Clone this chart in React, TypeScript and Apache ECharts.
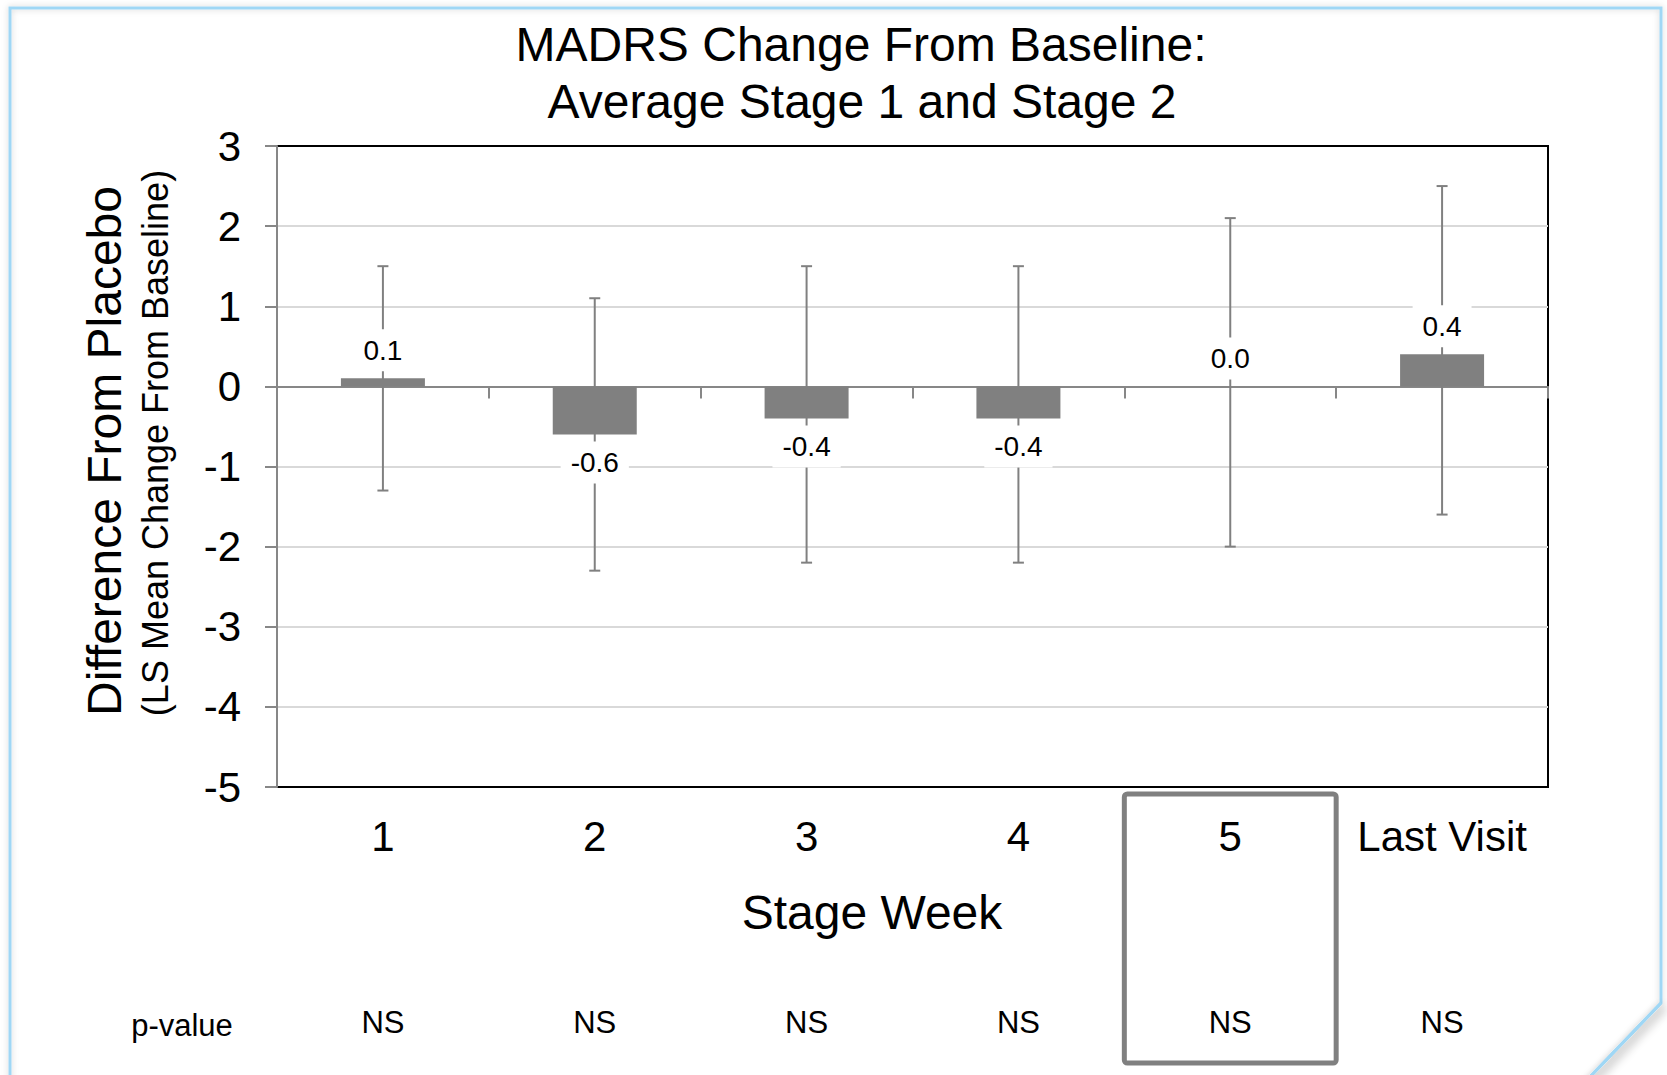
import React, { useEffect, useRef } from "react";
import * as echarts from "echarts";

const categories = ["1", "2", "3", "4", "5", "Last Visit"];
const diffValues = [0.1, -0.6, -0.4, -0.4, 0.0, 0.4];
const ciLower = [-1.3, -2.3, -2.2, -2.2, -2.0, -1.6];
const ciUpper = [1.5, 1.1, 1.5, 1.5, 2.1, 2.5];
const pValues = ["NS", "NS", "NS", "NS", "NS", "NS"];
const yMin = -5;
const yMax = 3;
const yInterval = 1;
const highlightCategory = "5";

const titleLines = ["MADRS Change From Baseline:", "Average Stage 1 and Stage 2"];
const yTitle = "Difference From Placebo";
const ySubTitle = "(LS Mean Change From Baseline)";
const xTitle = "Stage Week";
const pLabel = "p-value";

const FONT = "'Liberation Sans', Arial, Helvetica, sans-serif";
const GRAY = "#808080";
const AXIS_GRAY = "#878787";

const GRID_LEFT = 277;
const GRID_TOP = 146;
const GRID_W = 1271;
const GRID_H = 641;

function txt(id: string, text: string, x: number, y: number, size: number, rotation = 0) {
  return {
    id,
    type: "text",
    x,
    y,
    rotation,
    silent: true,
    style: {
      text,
      x: 0,
      y: 0,
      fill: "#000",
      font: `${size}px ${FONT}`,
      fontSize: size,
      fontFamily: FONT,
      textAlign: "center",
      align: "center",
      textVerticalAlign: "middle",
      verticalAlign: "middle",
    },
  };
}

export default function App() {
  const ref = useRef<HTMLDivElement>(null);

  useEffect(() => {
    if (!ref.current) return;
    const chart = echarts.init(ref.current, null, { renderer: "svg" });

    const option: any = {
      animation: false,
      backgroundColor: "#ffffff",
      textStyle: { fontFamily: FONT },
      grid: {
        left: GRID_LEFT,
        top: GRID_TOP,
        width: GRID_W,
        height: GRID_H,
        show: true,
        borderColor: "#000",
        borderWidth: 2,
        backgroundColor: "transparent",
      },
      xAxis: [
        {
          type: "category",
          data: categories,
          position: "bottom",
          axisLine: { onZero: true, lineStyle: { color: AXIS_GRAY, width: 2 } },
          axisTick: { show: true, length: 12, lineStyle: { color: AXIS_GRAY, width: 2 } },
          axisLabel: { show: false },
          splitLine: { show: false },
        },
        {
          type: "category",
          data: categories,
          position: "bottom",
          axisLine: { show: false, onZero: false },
          axisTick: { show: false },
          splitLine: { show: false },
          axisLabel: {
            interval: 0,
            fontSize: 42,
            fontFamily: FONT,
            color: "#000",
            margin: 28,
          },
        },
        {
          type: "category",
          data: categories,
          position: "bottom",
          offset: 212,
          axisLine: { show: false, onZero: false },
          axisTick: { show: false },
          splitLine: { show: false },
          axisLabel: {
            interval: 0,
            fontSize: 31,
            fontFamily: FONT,
            color: "#000",
            margin: 8,
            formatter: (_v: string, i: number) => pValues[i],
          },
        },
      ],
      yAxis: {
        type: "value",
        min: yMin,
        max: yMax,
        interval: yInterval,
        axisLine: { show: true, lineStyle: { color: AXIS_GRAY, width: 2 } },
        axisTick: { show: true, length: 12, lineStyle: { color: AXIS_GRAY, width: 2 } },
        axisLabel: { fontSize: 42, fontFamily: FONT, color: "#000", margin: 36 },
        splitLine: {
          showMinLine: false,
          showMaxLine: false,
          lineStyle: { color: "#d9d9d9", width: 2 },
        },
      },
      series: [
        {
          type: "custom",
          z: 2,
          silent: true,
          xAxisIndex: 0,
          yAxisIndex: 0,
          data: categories.map((_c, i) => [i, ciLower[i], ciUpper[i]]),
          encode: { x: 0, y: [1, 2] },
          renderItem: (_params: any, api: any) => {
            const xi = api.value(0);
            const lo = api.coord([xi, api.value(1)]);
            const hi = api.coord([xi, api.value(2)]);
            const hw = 5.5;
            const style = { stroke: GRAY, lineWidth: 2 };
            return {
              type: "group",
              children: [
                { type: "line", shape: { x1: lo[0], y1: hi[1], x2: lo[0], y2: lo[1] }, style },
                { type: "line", shape: { x1: lo[0] - hw, y1: hi[1], x2: lo[0] + hw, y2: hi[1] }, style },
                { type: "line", shape: { x1: lo[0] - hw, y1: lo[1], x2: lo[0] + hw, y2: lo[1] }, style },
              ],
            };
          },
        },
        {
          type: "bar",
          z: 3,
          xAxisIndex: 0,
          yAxisIndex: 0,
          barWidth: 84,
          silent: true,
          itemStyle: { color: GRAY },
          data: diffValues.map((v) => ({
            value: v,
            label: { position: v < 0 ? "bottom" : "top" },
          })),
          label: {
            show: true,
            formatter: (p: any) => Number(p.value).toFixed(1),
            fontSize: 28,
            fontFamily: FONT,
            color: "#000",
            backgroundColor: "#fff",
            padding: [7, 10],
            distance: 7,
          },
        },
      ],
      graphic: [
        {
          id: "frame",
          type: "polyline",
          silent: true,
          shape: {
            points: [
              [10, 1085],
              [10, 8],
              [1661, 8],
              [1661, 1003],
              [1586, 1081],
            ],
          },
          style: {
            stroke: "#9fd7f5",
            lineWidth: 3,
            fill: null,
            shadowBlur: 6,
            shadowColor: "rgba(0,0,0,0.18)",
          },
        },
        {
          id: "fold",
          type: "line",
          silent: true,
          shape: { x1: 1661, y1: 1003, x2: 1586, y2: 1081 },
          style: {
            stroke: "#9fd7f5",
            lineWidth: 3,
            shadowBlur: 10,
            shadowOffsetX: 4,
            shadowOffsetY: 4,
            shadowColor: "rgba(0,0,0,0.45)",
          },
        },
        txt("t1", titleLines[0], 861, 44, 48),
        txt("t2", titleLines[1], 862, 101, 48),
        txt("yt", yTitle, 104, 451, 48, Math.PI / 2),
        txt("yst", ySubTitle, 155, 443, 36, Math.PI / 2),
        txt("xt", xTitle, 872, 912, 48),
        txt("pv", pLabel, 182, 1025, 31),
      ],
    };

    chart.setOption(option);

    const idx = categories.indexOf(highlightCategory);
    const cx = chart.convertToPixel({ xAxisIndex: 0 }, idx) as number;
    const band = GRID_W / categories.length;
    chart.setOption({
      graphic: [
        {
          id: "highlight",
          type: "rect",
          silent: true,
          shape: { x: cx - band / 2, y: 794, width: band, height: 269, r: 3 },
          style: { stroke: GRAY, lineWidth: 5, fill: null },
        },
      ],
    });

    return () => {
      chart.dispose();
    };
  }, []);

  return (
    <div
      ref={ref}
      style={{
        position: "fixed",
        left: 0,
        top: 0,
        width: 1667,
        height: 1075,
        background: "#ffffff",
      }}
    />
  );
}
